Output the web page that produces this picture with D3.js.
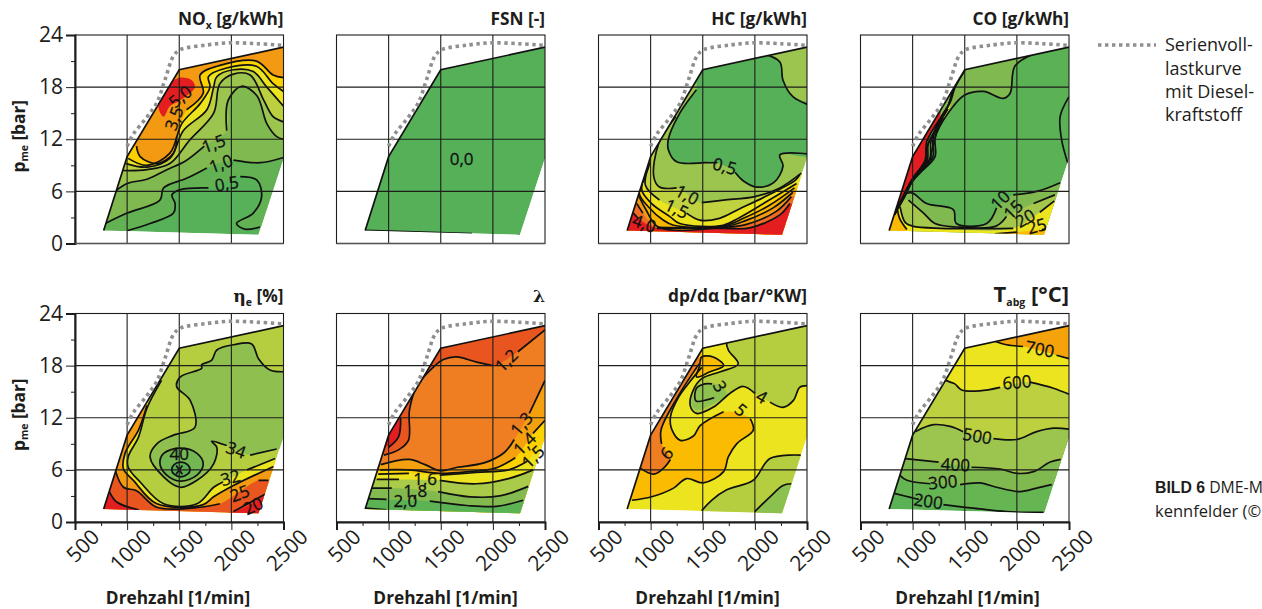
<!DOCTYPE html>
<html><head><meta charset="utf-8">
<script src="https://cdnjs.cloudflare.com/ajax/libs/d3/7.8.5/d3.min.js"></script>
<style>
html,body{margin:0;padding:0;background:#fff;overflow:hidden}
svg{display:block}
text{font-family:"Open Sans",sans-serif;fill:#1d1d1b}
</style></head><body>
<svg id="c" width="1262" height="609"></svg>
<script>
const speedTicks=[500,1000,1500,2000,2500];
const speedMinor=[750,1250,1750,2250];
const loadTicks=[0,6,12,18,24];
const loadMinor=[3,9,15,21];
const envelope=[[775,1.5],[1000,10],[1500,20],[2500,22.6],[2500,9.8],[2260,1]];
const outline=[[775,1.5],[1000,10],[1500,20],[2500,22.6]];
const fullLoad=[[1000,11.2],[1060,12.6],[1180,14.4],[1285,16.2],[1365,18.9],[1445,21.6],[1510,22.3],[1765,22.85],[1990,23.1],[2245,23],[2500,22.8]];

const noxContours=[
 {fill:'#62b254',mode:'up',pts:[[1005,1.5],[1220,2.3],[1445,3.5],[1460,4.6],[1430,5.6],[1510,6.2],[1780,6.4],null,[2085,7.7],[2245,7.3],[2290,5.4],[2210,3.5],[2050,2.3],[2130,1.65],[2275,1.9]]},
 {fill:'#7fb950',mode:'up',pts:[[790,2.3],[1000,3.5],[1315,5],[1350,6.4],[1570,7.5],[1765,8.7],null,[2020,9.6],[2275,9.3],[2500,9.9]]},
 {fill:'#9cc54f',mode:'up',pts:[[885,6],[1000,6.9],[1190,7.4],[1380,8.5],[1560,9.5],[1740,11.2],null,[1955,13],[1970,16.5],[2100,18.1],[2245,17],[2340,13.8],[2435,12.3],[2500,12]]},
 {fill:'#bcd03f',mode:'up',pts:[[960,8.4],[1190,8.5],[1410,9.2],[1600,11.9],[1830,15],[1890,18.4],[2020,19.5],[2180,19.4],[2310,16.5],[2400,14.6],[2500,14]]},
 {fill:'#ece41e',mode:'up',pts:[[990,9.2],[1190,8.8],[1410,9.8],[1540,13],[1765,15.4],[1830,18],[1860,19.2],[2020,20],[2210,19.8],[2340,18],[2500,15.8]]},
 {fill:'#fdd000',mode:'up',pts:[[1010,9.8],[1190,9],[1410,10.4],[1525,13.8],[1700,16.1],[1795,18],[1780,19.2],[1955,20.2],[2240,20.4],[2400,18.4],[2500,17.5]]},
 {fill:'#f39a12',mode:'up',pts:[[1090,11.2],[1125,10],[1285,9.2],[1445,10.4],[1475,12.3],null,[1570,15.4],[1730,17.3],[1700,19.4],[1890,20.5],[2240,21],[2400,19.4],[2500,19.1]]},
 {fill:'#e41e20',mode:'loop',noLine:true,pts:[[1350,14.6],[1300,15.8],[1410,18.4],[1510,19.1],[1620,18.8],[1650,18],[1510,16.5],[1410,15.8]]}
];
const noxLabels=[['5,0',1510,16.9,-40],['3,5',1450,14.4,-70],['1,5',1830,11.5,-20],['1,0',1900,9.2,-20],['0,5',1955,6.9,-10]];

const fsnContours=[{noFill:true,pts:[[775,1.5],[1800,1.15]]},{noFill:true,pts:[[2235,0.95],[2265,0.9]]}];
const fsnLabels=[['0,0',1700,9.7,0]];

const hcContours=[
 {fill:'#c0d23f',mode:'down',pts:[[1240,14.6],[1080,11.6],[1030,7.7],[1085,6.5],[1250,6.4],null,[1490,4.7],[1700,5],[2000,5.4],[2240,6.4],[2445,8.1]]},
 {fill:'#ece41e',mode:'down',pts:[[995,9.3],[950,6.7],[1085,5],null,[1345,3.5],[1470,2.7],[1660,2.9],[1855,4],[2100,5.4],[2390,7.3],[2430,7.9]]},
 {fill:'#fdd000',mode:'down',pts:[[980,8.8],[915,6.2],[1010,4.6],[1185,3.1],[1280,2.3],[1695,2.1],[1855,3],[2110,4.8],[2400,6.9]]},
 {fill:'#f7b500',mode:'down',pts:[[950,7.6],[890,5.8],[980,4.2],[1120,2.7],[1220,2.1],[1695,2],[1890,2.9],[2140,4.4],[2380,6.4]]},
 {fill:'#f39a12',mode:'down',pts:[[890,5.4],[960,3.8],[1075,1.9],[1695,1.9],[1905,2.6],[2175,4.1],[2365,5.9]]},
 {fill:'#ed6b22',mode:'down',pts:[[867,4.6],[925,3.5],null,[1060,1.85],[1700,1.85],[1920,2.2],[2205,3.7],[2350,5.4]]},
 {fill:'#e41e20',mode:'down',pts:[[835,3.5],[880,2.9],null,[1060,1.75],[1700,1.75],[1950,1.8],[2240,3.3],[2335,4.6]]},
 {fill:'#56b058',mode:'custom',close:[[1440,25],[2090,25]],pts:[[2090,21.8],[2240,20.9],[2270,18.8],[2365,16.9],[2600,15.6],null,[2600,10.2],[2240,10.2],[2270,8.9],[2180,7],[2020,6.5],[1890,7.2],[1810,8.2],null,[1640,9.3],[1530,9.3],[1250,9.4],[1170,10.8],[1170,12],[1280,15],[1440,17.7]]}
];
const hcLabels=[['0,5',1710,8.9,15],['1,0',1350,5.6,28],['1,5',1250,4,25],['4,0',940,2.3,20]];

const coContours=[
 {fill:'#7fb950',mode:'custom',close:[[500,7.5],[500,30],[2140,30]],pts:[[2140,21.7],[1980,20.4],[1935,17.3],[1870,16.7],[1680,17.5],[1500,17.1],[1390,15.8],[1230,12.7],[1170,9.6]]},
 {noFill:true,pts:[[2500,16.9],[2415,14.6],[2430,11.9],[2490,9.2]]},
 {fill:'#7fb950',mode:'down',pts:[[945,5.8],[1000,5.8],[1135,4.6],[1390,3.9],[1420,2.3],[1710,2.3],[1805,4.1],null,[1965,5.6],[2190,6],[2415,7]]},
 {fill:'#a5c84c',mode:'down',pts:[[960,5],[1105,3.5],[1215,2.3],[1420,1.9],[1800,2],[1900,3.1],null,[2160,4.6],[2365,5.6]]},
 {fill:'#ece41e',mode:'down',pts:[[880,4.2],[930,2.4],[1000,2],[1265,1.75],[1965,1.75],null,[2220,3.6],[2360,4.9]]},
 {fill:'#fbb900',mode:'down',pts:[[1790,1.1],[2000,1.3],null,[2240,1.6],[2500,1.9]]},
 {fill:'#fbb900',mode:'custom',close:[[945,-2],[300,-2],[300,3.9]],pts:[[855,3.9],[875,2.9],[945,1.6]]},
 {fill:'#ece41e',mode:'loop',noLine:true,pts:[[1400,17.6],[1345,15.8],[1275,14.2],[1310,14.4],[1370,16.2]]},
 {fill:'#e41e20',mode:'custom',close:[[500,3.5],[500,25],[1300,25]],pts:[[1265,14.4],[1135,11.7],[1120,9.6],[990,7.3],[880,4.6],[830,3.5]]},
 {noFill:true,pts:[[1500,19.9],[1405,17.9],[1360,16.2],[1280,14.6],[1215,12],[1215,10],[1070,8.1],[990,7],[930,5.5],[860,4]]},
 {noFill:true,pts:[[1490,19.9],[1395,17.9],[1345,16],[1265,14.4],[1195,12],[1195,10],[1050,8],[975,6.9],[915,5.3],[850,3.9]]},
 {noFill:true,pts:[[1480,19.8],[1390,17.7],[1335,15.7],[1250,14],[1175,11.7],[1165,9.8],[1030,7.8],[960,6.6],[900,5.1],[845,3.7]]},
 {noFill:true,pts:[[1340,15.5],[1240,13.5],[1150,11.5],[1140,9.6],[1005,7.5],[940,6.2],[885,4.9],[835,3.5]]},
 {noFill:true,pts:[[1300,14.4],[1210,12.8],[1130,10.9],[1125,9.4],[1000,7.2],[930,5.8],[875,4.6],[830,3.3]]}
];
const coLabels=[['10',1840,5,-45],['15',1965,3.9,-45],['20',2080,2.9,-30],['25',2190,2,-15]];

const etaContours=[
 {fill:'#8fc04f',mode:'custom',close:[[2700,8.4],[2700,17.3]],pts:[[2500,17.3],[2370,17.5],[2260,18.8],[2195,20.5],[2020,20.4],[1860,19.8],[1810,18.6],[1715,18.1],[1715,17.7],[1510,16.7],[1475,15.6],[1605,14],[1650,10.9],[1445,10],[1285,9],[1220,7.5],[1350,5.2],[1510,4],[1670,4.8],[1830,6.7],[1860,8.6],[1810,9.3],[1955,8.8],null,[2180,7.7],[2435,8.4]]},
 {fill:'#72b752',mode:'loop',pts:[[1350,7.9],[1510,8.5],[1670,7.9],[1730,6.7],[1670,5.4],[1510,4.7],[1380,5.4],[1315,6.7]]},
 {fill:'#5ab255',mode:'loop',pts:[[1516,6.9],[1580,6.6],[1604,6],[1580,5.5],[1516,5.2],[1450,5.5],[1428,6],[1450,6.6]]},
 {noFill:true,pts:[[1470,6.5],[1530,5.5]]},
 {noFill:true,pts:[[1470,5.5],[1530,6.5]]},
 {fill:'#ece41e',mode:'down',pts:[[1330,16.3],[1190,13.1],[1110,9.8],[1010,7.5],[1010,6.3],[1125,4.6],[1350,2.1],[1670,2.1],[1830,4],[1920,4.6],null,[2150,6],[2420,7.3]]},
 {fill:'#f39a12',mode:'down',pts:[[1190,13.4],[1110,10.6],[980,7.9],[965,6.1],[1060,4.8],[1285,2.1],[1730,2],[1830,2.9],[2020,4.2],[2405,6.4]]},
 {fill:'#e8551f',mode:'down',pts:[[885,6],[965,4],[1090,3.6],[1285,1.7],[1700,1.7],[1890,2.1],null,[2260,4.8],[2355,4.8]]},
 {fill:'#e41e20',mode:'down',pts:[[830,3.5],[900,2.3],[1110,1.4],null,[2020,1.2],[2340,3.3]]}
];
const etaLabels=[['40',1500,7.8,0],['34',2045,8.3,20],['32',1990,5.1,-15],['25',2080,3.3,-20],['20',2210,1.85,-25]];

const lambdaContours=[
 {fill:'#e8551f',mode:'up',pts:[[955,7.7],[1095,8.3],[1190,9.4],[1200,12.9],[1270,15.6],[1445,18],[1525,18.7],[1650,19],[1845,18.4],[2000,18],null,[2240,19.6],[2500,22.1]]},
 {fill:'#e41e20',mode:'custom',close:[[500,12],[500,8]],pts:[[1115,12],[1095,9.8],[1000,8.6]]},
 {fill:'#f4a00f',mode:'down',pts:[[925,6.6],[1195,7.2],[1350,6.6],[1490,5.9],[1660,6.3],[1915,6.8],[2110,8],[2205,9.5],null,[2350,12.5],[2500,16.3]]},
 {fill:'#fcd200',mode:'down',pts:[[918,6],[1195,6],[1490,5.6],[1770,5.8],[2025,6.2],[2215,7.4],null,[2385,10.2],[2500,11.7]]},
 {fill:'#ece41e',mode:'down',pts:[[900,5.5],[1195,5.6],null,[1490,5.4],[1840,5.7],[2150,6],[2330,7],null,[2500,9.6]]},
 {fill:'#a9cb49',mode:'down',pts:[[885,4.9],[1100,4.9],null,[1490,4.8],[1840,4.4],[2150,5],[2385,6]]},
 {fill:'#82ba4f',mode:'down',pts:[[840,3.9],[1030,3.9],null,[1475,3.5],[1780,2.9],[2065,3],[2340,4.1]]},
 {fill:'#5cb354',mode:'down',pts:[[805,2.7],[980,2.6],null,[1395,2.4],[1750,1.9],[2035,1.8],[2290,2.5]]},
 {noFill:true,pts:[[775,1.6],[980,1.4]]}
];
const lambdaLabels=[['1,2',2130,18.6,-45],['1,3',2275,11.3,-50],['1,4',2305,9,-45],['1,5',2385,7.5,-45],['1,6',1350,5,0],['1,8',1255,3.6,0],['2,0',1160,2.4,0]];

const dpContours=[
 {fill:'#b5ce3f',mode:'custom',close:[[2700,15.7],[2700,25],[1825,25]],pts:[[1825,21.8],[1730,20.9],[1745,19.8],[1840,18.2],[1670,17.3],[1490,16.5],[1410,15.2],[1380,13.4],[1440,12.5],[1600,13.2],[1760,14.8],[1890,15.6],[2000,14.8],null,[2145,13.8],[2270,13.2],[2370,14],[2430,15.5],[2500,15.7]]},
 {fill:'#8cc04f',mode:'loop',noLine:true,pts:[[1390,13.6],[1470,15.6],[1620,15.9],[1730,14.8],[1600,13.6],[1440,12.9]]},
 {noFill:true,pts:[[1610,14.3],[1440,13.9],[1425,14.2],[1440,15.4],[1520,15.9],[1590,15.9]]},
 {fill:'#b5ce3f',mode:'custom',close:[[2700,7.7],[2700,-2],[1490,-2]],pts:[[1490,1.3],[1585,2.5],[1730,3.7],[1985,4.8],[2145,7.3],[2440,7.7]]},
 {fill:'#8cc04f',mode:'custom',close:[[2700,4.4],[2700,-2],[2000,-2]],pts:[[2000,1.2],[2145,2.9],[2270,4.2],[2350,4.4]]},
 {fill:'#fbbb00',mode:'custom',close:[[1500,25],[500,25],[500,2.5]],pts:[[820,2.5],[1010,2.9],[1220,3.9],[1345,5],[1505,4.5],[1700,5.8],[1745,7.5],[1825,9],[1985,10.6],[1955,11.9],null,[1700,12.7],[1475,11.1],[1410,9.9],[1285,9.4],[1205,10.6],[1190,12.1],[1270,14.4],[1380,16.2],[1490,17.8]]},
 {fill:'#fbbb00',mode:'loop',pts:[[1490,19],[1600,19],[1700,18],[1570,17.3],[1440,16.7],[1470,18]]},
 {fill:'#ef7d22',mode:'custom',close:[[1465,25],[500,25],[500,6.2]],pts:[[900,6.2],[1030,5.5],[1125,6.2],[1190,7.2],null,[1105,9],[1100,10.6],[1250,14.2],[1465,18.2]]}
];
const dpLabels=[['3',1665,15.6,60],['4',2065,14.4,30],['5',1865,12.9,40],['6',1155,7.9,-50]];

const tabgContours=[
 {fill:'#66b553',mode:'up',pts:[[825,3.3],[990,2.8],[1060,2.6],null,[1295,2],[1645,1.5],[1900,1.2],[2255,1.1]]},
 {fill:'#7fb950',mode:'up',pts:[[875,5.4],[945,4.8],[1170,4.4],null,[1455,4.3],[1645,4.5],[1805,4],[2030,3.5],[2190,3.9],[2335,4.3]]},
 {fill:'#9cc54f',mode:'up',pts:[[930,7.3],[1250,6.9],null,[1565,6.3],[1840,6.1],[2000,5.6],[2160,5.8],[2320,6.9],[2420,7.2]]},
 {fill:'#bdd03f',mode:'up',pts:[[1025,10.4],[1200,11.2],[1360,11],[1485,10.4],null,[1775,9.6],[2000,9.5],[2190,10.4],[2350,10.8],[2500,10.7]]},
 {fill:'#ece41e',mode:'up',pts:[[1320,16.3],[1360,16.1],[1405,15.9],[1470,15.2],[1645,15.1],[1840,15.5],null,[2125,16.1],[2350,15.4],[2500,14.7]]},
 {fill:'#f4a30b',mode:'custom',close:[[2700,18.8],[2700,30],[1790,30]],pts:[[1790,20.8],[1900,20.4],[2060,20.2],null,[2380,19.2],[2500,18.8]]}
];
const tabgLabels=[['700',2220,19.9,10],['600',2000,16.1,-5],['500',1620,9.9,10],['400',1410,6.6,3],['300',1290,4.6,-5],['200',1150,2.4,8]];

const colLeft=[75,336.5,598.5,860.5], rowTop=[35,313.5], W=208.5, H=208.5;
const xLabelCenter=[178,445.5,707.5,967.5];
const panels=[
 {col:0,row:0,base:'#57b158',contours:noxContours,labels:noxLabels,title:[['NO',0],['x',1],[' [g/kWh]',0]]},
 {col:1,row:0,base:'#56b058',contours:fsnContours,labels:fsnLabels,title:[['FSN [-]',0]]},
 {col:2,row:0,base:'#9cc54f',contours:hcContours,labels:hcLabels,title:[['HC [g/kWh]',0]]},
 {col:3,row:0,base:'#5ab255',contours:coContours,labels:coLabels,title:[['CO [g/kWh]',0]]},
 {col:0,row:1,base:'#b5ce3f',contours:etaContours,labels:etaLabels,title:[['η',2],['e',1],[' [%]',0]]},
 {col:1,row:1,base:'#ef7d22',contours:lambdaContours,labels:lambdaLabels,title:[['λ',2]]},
 {col:2,row:1,base:'#ece41e',contours:dpContours,labels:dpLabels,title:[['dp/dα [bar/°KW]',0]]},
 {col:3,row:1,base:'#5ab255',contours:tabgContours,labels:tabgLabels,title:[['T',3],['abg',1],[' [°C]',3]]}
];

const svg=d3.select('#c');
const defs=svg.append('defs');
const INK='#1d1d1b';

panels.forEach((p,i)=>{
 const x0=colLeft[p.col], y0=rowTop[p.row];
 const x=d3.scaleLinear().domain([500,2500]).range([x0,x0+W]);
 const y=d3.scaleLinear().domain([0,24]).range([y0+H,y0]);
 const g=svg.append('g');
 const line=d3.line().x(d=>x(d[0])).y(d=>y(d[1])).curve(d3.curveCatmullRom.alpha(0.5));
 const lineGap=d3.line().defined(d=>d!==null).x(d=>x(d[0])).y(d=>y(d[1])).curve(d3.curveCatmullRom.alpha(0.5));
 const straight=d3.line().x(d=>x(d[0])).y(d=>y(d[1]));
 defs.append('clipPath').attr('id','env'+i).append('path').attr('d',straight(envelope)+'Z');
 const body=g.append('g').attr('clip-path',`url(#env${i})`);
 body.append('path').attr('d',straight(envelope)+'Z').attr('fill',p.base);
 p.contours.filter(c=>!c.noFill).forEach(c=>{
   const pts=c.pts.filter(d=>d!==null);
   const first=pts[0], last=pts[pts.length-1];
   let close=[];
   if(c.mode==='up') close=[[2700,last[1]],[2700,30],[300,30],[300,first[1]]];
   if(c.mode==='down') close=[[2700,last[1]],[2700,-2],[300,-2],[300,first[1]]];
   if(c.mode==='custom') close=c.close;
   const d=c.mode==='loop'
     ? d3.line().x(v=>x(v[0])).y(v=>y(v[1])).curve(d3.curveCatmullRomClosed.alpha(0.5))(pts)
     : line(pts)+close.map(v=>`L${x(v[0])},${y(v[1])}`).join('')+'Z';
   body.append('path').attr('d',d).attr('fill',c.fill);
 });
 const gridG=g.append('g').attr('stroke',INK).attr('stroke-width',1.1);
 [1000,1500,2000].forEach(v=>gridG.append('line').attr('x1',x(v)).attr('x2',x(v)).attr('y1',y0).attr('y2',y0+H));
 [6,12,18].forEach(v=>gridG.append('line').attr('x1',x0).attr('x2',x0+W).attr('y1',y(v)).attr('y2',y(v)));
 const lines=body.append('g').attr('fill','none').attr('stroke','#111').attr('stroke-width',1.7);
 p.contours.filter(c=>!c.noLine).forEach(c=>{
   lines.append('path').attr('d',c.mode==='loop'
     ? d3.line().x(v=>x(v[0])).y(v=>y(v[1])).curve(d3.curveCatmullRomClosed.alpha(0.5))(c.pts)
     : lineGap(c.pts));
 });
 g.append('path').attr('d',straight(outline)).attr('fill','none').attr('stroke','#111').attr('stroke-width',1.7);
 g.append('rect').attr('x',x0).attr('y',y0).attr('width',W).attr('height',H).attr('fill','none').attr('stroke',INK).attr('stroke-width',1.1);
 g.append('path').attr('d',line(fullLoad)).attr('fill','none').attr('stroke','#8f8f8f').attr('stroke-width',3.6).attr('stroke-dasharray','3.4 3.6');
 p.labels.forEach(l=>{
   g.append('text').attr('text-anchor','middle').attr('dy','0.36em').attr('font-size',17)
    .style('fill','#111').attr('stroke','#111').attr('stroke-width',0.3)
    .attr('transform',`translate(${x(l[1])},${y(l[2])}) rotate(${l[3]})`).text(l[0]);
 });
 const t=g.append('text').attr('x',x0+W).attr('y',p.row===0?y0-10:y0-12).attr('text-anchor','end').attr('font-size',17.3).attr('font-weight',700);
 p.title.forEach(s=>{
   const ts=t.append('tspan').text(s[0]);
   if(s[1]===1) ts.attr('font-size',10.5).attr('dy',4);
   else if(t.selectAll('tspan').size()>1) ts.attr('dy',-4);
   if(s[1]===2) ts.style('font-family','"DejaVu Serif",serif');
   if(s[1]===3) ts.attr('font-size',22);
 });
 if(p.col===0){
  const a=g.append('g').attr('transform',`translate(${x0},0)`).call(d3.axisLeft(y).tickValues(loadTicks).tickSize(9).tickPadding(3));
  a.select('.domain').attr('stroke',INK).attr('stroke-width',2);
  a.selectAll('line').attr('stroke',INK);
  a.selectAll('text').attr('font-size',21).style('font-family','"Open Sans",sans-serif').attr('fill',INK);
  const m=g.append('g').attr('transform',`translate(${x0},0)`).call(d3.axisLeft(y).tickValues(loadMinor).tickSize(4).tickFormat(''));
  m.select('.domain').remove(); m.selectAll('line').attr('stroke',INK);
  const yl=g.append('text').attr('transform',`translate(25,${y0+H/2-3}) rotate(-90)`).attr('text-anchor','middle').attr('font-size',17.3).attr('font-weight',700);
  yl.append('tspan').text('p');
  yl.append('tspan').text('me').attr('font-size',10.5).attr('dy',3);
  yl.append('tspan').text(' [bar]').attr('dy',-3);
 }
 if(p.row===1){
  const a=g.append('g').attr('transform',`translate(0,${y0+H})`).call(d3.axisBottom(x).tickValues(speedTicks).tickSize(8).tickFormat(d3.format('d')));
  a.select('.domain').attr('stroke',INK).attr('stroke-width',2);
  a.selectAll('line').attr('stroke',INK);
  a.selectAll('text').attr('font-size',21).style('font-family','"Open Sans",sans-serif').attr('fill',INK)
   .attr('text-anchor','end').attr('transform','translate(9,0) rotate(-45)').attr('dy','0.71em').attr('y',8);
  const m=g.append('g').attr('transform',`translate(0,${y0+H})`).call(d3.axisBottom(x).tickValues(speedMinor).tickSize(4).tickFormat(''));
  m.select('.domain').remove(); m.selectAll('line').attr('stroke',INK);
  g.append('text').attr('x',xLabelCenter[p.col]).attr('y',604).attr('text-anchor','middle').attr('font-size',17.3).attr('font-weight',700).text('Drehzahl [1/min]');
 } else {
  g.append('line').attr('x1',x0).attr('x2',x0+W).attr('y1',y0+H).attr('y2',y0+H).attr('stroke','#555').attr('stroke-width',1.6);
 }
});

svg.append('line').attr('x1',1098).attr('x2',1156).attr('y1',45).attr('y2',45).attr('stroke','#8f8f8f').attr('stroke-width',3.6).attr('stroke-dasharray','3.4 3.6');
const legendLines=['Serienvoll-','lastkurve','mit Diesel-','kraftstoff'];
const legendY=[51,75,98,121];
legendLines.forEach((s,i)=>svg.append('text').attr('x',1165).attr('y',legendY[i]).attr('font-size',18).text(s));
const cap=svg.append('text').attr('x',1155).attr('y',493).attr('font-size',15.8);
cap.append('tspan').text('BILD 6').attr('font-weight',700).attr('font-family','"Liberation Sans Narrow",sans-serif');
cap.append('tspan').text(' DME-M');
svg.append('text').attr('x',1155).attr('y',517).attr('font-size',16.5).text('kennfelder (©');
</script>
</body></html>
